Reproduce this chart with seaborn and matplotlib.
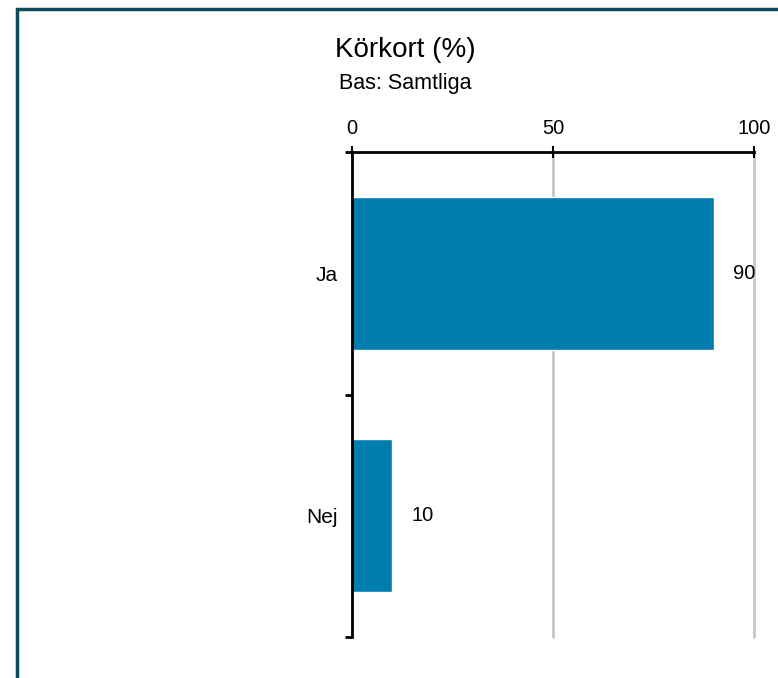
import matplotlib
matplotlib.use('Agg')
import matplotlib.pyplot as plt
import seaborn as sns
import pandas as pd
from matplotlib.patches import Rectangle

categories = ['Ja', 'Nej']
values = [90, 10]
x_ticks = [0, 50, 100]
title = 'Körkort (%)'
subtitle = 'Bas: Samtliga'

bar_color = '#007DAD'

sns.set_style('white')
plt.rcParams['font.family'] = ['Liberation Sans', 'DejaVu Sans']
plt.rcParams['text.color'] = 'black'

df = pd.DataFrame({'Svar': categories, 'Andel': values})

fig = plt.figure(figsize=(7.78, 6.78), dpi=100)
ax = fig.add_axes([352 / 778, 1 - 637 / 678, 402 / 778, 485 / 678])

sns.barplot(data=df, x='Andel', y='Svar', orient='h', color=bar_color,
            saturation=1, width=0.63, ax=ax, zorder=3)

ax.set_xlim(0, 100)
ax.set_ylim(1.5, -0.5)
ax.set_xlabel('')
ax.set_ylabel('')

# x axis on top
ax.xaxis.tick_top()
ax.set_xticks(x_ticks)
ax.tick_params(axis='x', which='major', direction='inout', length=8, width=1.5,
               labelsize=14.5, pad=6, colors='black')
ax.grid(axis='x', color='#c6c6c6', linewidth=2, zorder=0)
ax.grid(axis='y', visible=False)
for gl in ax.get_xgridlines():
    gl.set_clip_on(False)

# category labels and boundary ticks
ax.tick_params(axis='y', which='major', left=True, length=0, labelsize=15, pad=10,
               labelcolor='black')
ax.set_yticks([-0.5, 0.5, 1.5], minor=True)
ax.tick_params(axis='y', which='minor', left=True, direction='out', length=5, width=2,
               color='black')

for side in ['right', 'bottom']:
    ax.spines[side].set_visible(False)
for side in ['left', 'top']:
    ax.spines[side].set_visible(True)
    ax.spines[side].set_color('black')
    ax.spines[side].set_linewidth(2)
    ax.spines[side].set_zorder(5)

for cont in ax.containers:
    ax.bar_label(cont, fmt='%g', padding=14, fontsize=14.5, color='black')

fig.text(405 / 778, 1 - 50 / 678, title, ha='center', va='center', fontsize=20)
fig.text(405 / 778, 1 - 83 / 678, subtitle, ha='center', va='center', fontsize=15.5)

# frame around the figure (cut off at right and bottom)
fig.patches.append(Rectangle((17 / 778, -0.1), 1.2, 1.1 - 9 / 678, transform=fig.transFigure,
                             fill=False, edgecolor='#0E4A5F', linewidth=2.5, zorder=0))

fig.savefig('out.png', dpi=100)
